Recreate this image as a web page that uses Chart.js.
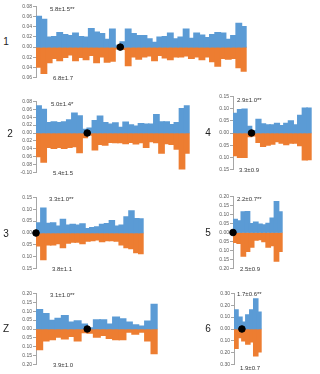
<!DOCTYPE html>
<html><head><meta charset="utf-8">
<script src="https://cdn.jsdelivr.net/npm/chart.js@4/dist/chart.umd.min.js"></script>
<style>
html,body{margin:0;padding:0;background:#fff;}
body{width:320px;height:374px;position:relative;overflow:hidden;font-family:"Liberation Sans",Arial,sans-serif;}
canvas{position:absolute;}
.t{position:absolute;white-space:nowrap;line-height:1;transform:translateY(-50%);color:#333;}
.lab{font-size:10px;color:#222;transform:translate(-50%,-50%);}
.ann{font-size:6px;}
</style></head><body>
<script>
// ---------- data ----------
const panelNames = ['1','2','3','Z','4','5','6'];

const up1 = [0.060,0.054,0.019,0.020,0.028,0.024,0.022,0.027,0.020,0.019,0.036,0.029,0.026,0.015,0.035,0.003,0.010,0.035,0.026,0.022,0.022,0.016,0.009,0.019,0.020,0.027,0.016,0.019,0.035,0.017,0.027,0.023,0.018,0.024,0.028,0.027,0.015,0.022,0.046,0.040];
const down1 = [0.039,0.051,0.030,0.022,0.026,0.020,0.015,0.026,0.020,0.024,0.016,0.030,0.019,0.029,0.027,0.003,0.004,0.036,0.019,0.023,0.019,0.017,0.026,0.016,0.021,0.024,0.019,0.019,0.017,0.022,0.019,0.024,0.019,0.028,0.037,0.022,0.023,0.022,0.040,0.047];

const up2 = [0.068,0.059,0.026,0.028,0.026,0.028,0.033,0.050,0.043,0.009,0.012,0.031,0.042,0.026,0.022,0.025,0.014,0.027,0.020,0.017,0.023,0.022,0.022,0.046,0.028,0.028,0.021,0.026,0.061,0.068];
const down2 = [0.059,0.073,0.036,0.038,0.036,0.038,0.036,0.034,0.049,0.011,0.005,0.042,0.028,0.030,0.023,0.024,0.024,0.026,0.023,0.027,0.024,0.036,0.021,0.024,0.050,0.026,0.028,0.040,0.090,0.050];

const up3 = [0.042,0.104,0.040,0.042,0.028,0.056,0.032,0.036,0.032,0.038,0.018,0.022,0.025,0.035,0.039,0.051,0.028,0.032,0.067,0.092,0.060,0.059];
const down3 = [0.053,0.111,0.049,0.049,0.044,0.061,0.042,0.038,0.038,0.044,0.033,0.031,0.028,0.035,0.031,0.031,0.033,0.049,0.061,0.065,0.082,0.086];

const upZ = [0.107,0.085,0.048,0.059,0.074,0.037,0.044,0.026,0.006,0.050,0.050,0.026,0.065,0.056,0.037,0.022,0.015,0.043,0.137];
const downZ = [0.115,0.065,0.059,0.044,0.054,0.041,0.065,0.019,0.022,0.044,0.035,0.052,0.059,0.059,0.017,0.028,0.017,0.065,0.137];

const up4 = [0.079,0.095,0.097,0.026,0.009,0.055,0.037,0.032,0.032,0.039,0.029,0.039,0.049,0.032,0.071,0.101,0.101];
const down4 = [0.092,0.099,0.099,0.014,0.011,0.038,0.054,0.049,0.045,0.035,0.041,0.047,0.041,0.041,0.051,0.109,0.108];

const up5 = [0.071,0.063,0.113,0.114,0.048,0.057,0.045,0.041,0.050,0.079,0.170,0.113];
const down5 = [0.054,0.059,0.129,0.104,0.080,0.041,0.039,0.050,0.080,0.071,0.157,0.104];

const up6 = [0.160,0.098,0.056,0.118,0.160,0.252,0.140];
const down6 = [0.162,0.070,0.098,0.126,0.106,0.224,0.190];

// position of the black marker along each panel's bar axis
const dots = {'1':16,'2':10,'3':0,'Z':8,'4':4,'5':0,'6':2};

// annotations (upper, lower)
const annUp = {'1':'5.8±1.5**','2':'5.0±1.4*','3':'3.3±1.0**','Z':'3.1±1.0**','4':'2.9±1.0**','5':'2.2±0.7**','6':'1.7±0.6**'};
const annDown = {'1':'6.8±1.7','2':'5.4±1.5','3':'3.8±1.1','Z':'3.9±1.0','4':'3.3±0.9','5':'2.5±0.9','6':'1.9±0.7'};

// y tick values (ascending) and their labels
const ticks1 = [-0.06,-0.04,-0.02,0,0.02,0.04,0.06,0.08];
const tickLabels1 = ['0.06','0.04','0.02','0.00','0.02','0.04','0.06','0.08'];
const ticks2 = [-0.10,-0.08,-0.06,-0.04,-0.02,0,0.02,0.04,0.06,0.08];
const tickLabels2 = ['-0.10','0.08','0.06','0.04','0.02','0.00','0.02','0.04','0.06','0.08'];
const ticks15 = [-0.15,-0.10,-0.05,0,0.05,0.10,0.15];
const tickLabels15 = ['0.15','0.10','0.05','0.00','0.05','0.10','0.15'];
const ticks20 = [-0.20,-0.15,-0.10,-0.05,0,0.05,0.10,0.15,0.20];
const tickLabels20 = ['0.20','0.15','0.10','0.05','0.00','0.05','0.10','0.15','0.20'];
const ticks30 = [-0.30,-0.20,-0.10,0,0.10,0.20,0.30];
const tickLabels30 = ['0.30','0.20','0.10','0.00','0.10','0.20','0.30'];

const series = {
  '1':{up:up1,down:down1,ticks:ticks1,labels:tickLabels1},
  '2':{up:up2,down:down2,ticks:ticks2,labels:tickLabels2},
  '3':{up:up3,down:down3,ticks:ticks15,labels:tickLabels15},
  'Z':{up:upZ,down:downZ,ticks:ticks20,labels:tickLabels20},
  '4':{up:up4,down:down4,ticks:ticks15,labels:tickLabels15},
  '5':{up:up5,down:down5,ticks:ticks20,labels:tickLabels20},
  '6':{up:up6,down:down6,ticks:ticks30,labels:tickLabels30}
};

// ---------- layout (pixels) ----------
const layout = {
  '1':{ax:36, right:251, top:6,   bottom:78,  lab:[6,42],   aUp:[50,8.5],  aDn:[53,77.5]},
  '2':{ax:36, right:194, top:101, bottom:173, lab:[10,134], aUp:[51,104],  aDn:[53,172.5]},
  '3':{ax:36, right:148, top:197, bottom:269, lab:[6,234],  aUp:[49,199],  aDn:[52,269]},
  'Z':{ax:36, right:162, top:293, bottom:365, lab:[6,329],  aUp:[50,295],  aDn:[53,365]},
  '4':{ax:233,right:316, top:96,  bottom:170, lab:[208,133],aUp:[237,100], aDn:[239,170]},
  '5':{ax:233,right:287, top:196, bottom:269, lab:[208,233],aUp:[237,199], aDn:[240,269]},
  '6':{ax:234,right:266, top:293, bottom:365, lab:[208,329],aUp:[237,294], aDn:[240,368]}
};
const AXW = 22;
const PAD = 4;
const BLUE = '#5B9BD5', ORANGE = '#ED7D31', AXIS = '#a6a6a6';

function addText(cls, txt, x, y){
  const d = document.createElement('div');
  d.className = 't ' + cls;
  d.textContent = txt;
  d.style.left = x + 'px';
  d.style.top = y + 'px';
  document.body.appendChild(d);
}

function makePanel(name){
  const g = layout[name], s = series[name];
  const cl = g.ax - AXW;
  const w = g.right - cl;
  const h = g.bottom - g.top + 2*PAD;
  const c = document.createElement('canvas');
  c.width = w; c.height = h;
  c.style.left = cl + 'px'; c.style.top = (g.top - PAD) + 'px';
  c.style.width = w + 'px'; c.style.height = h + 'px';
  document.body.appendChild(c);
  const n = s.up.length;
  const barOpts = {borderWidth:0, grouped:false, barPercentage:1, categoryPercentage:1, inflateAmount:0.8, order:1};
  new Chart(c, {
    type:'bar',
    data:{datasets:[
      {type:'scatter', data:[{x:dots[name], y:0}], backgroundColor:'#000', borderColor:'#000',
       pointRadius:3.3, pointHoverRadius:3.3, clip:false, order:0},
      Object.assign({data:s.up.map((v,i)=>({x:i+0.5, y:v})), backgroundColor:BLUE}, barOpts),
      Object.assign({data:s.down.map((v,i)=>({x:i+0.5, y:-v})), backgroundColor:ORANGE}, barOpts)
    ]},
    options:{
      responsive:false, animation:false, devicePixelRatio:1,
      events:[],
      layout:{padding:{top:PAD,bottom:PAD,left:0,right:0}},
      plugins:{legend:{display:false}, tooltip:{enabled:false}},
      scales:{
        x:{type:'linear', min:0, max:n, display:false, offset:false, ticks:{stepSize:1}},
        y:{min:s.ticks[0], max:s.ticks[s.ticks.length-1],
           afterBuildTicks:sc=>{ sc.ticks = s.ticks.map(v=>({value:v})); },
           afterFit:sc=>{ sc.width = AXW; },
           grid:{drawOnChartArea:false, drawTicks:true, tickLength:3, color:AXIS},
           border:{display:true, color:AXIS, width:1},
           ticks:{font:{size:5, family:'Liberation Sans'}, color:'#595959', padding:1, autoSkip:false,
                  callback:(v,i)=>s.labels[i]}
        }
      }
    }
  });
  addText('lab', name, g.lab[0], g.lab[1]);
  addText('ann', annUp[name], g.aUp[0], g.aUp[1]);
  addText('ann', annDown[name], g.aDn[0], g.aDn[1]);
}

panelNames.forEach(makePanel);
</script>
</body></html>
